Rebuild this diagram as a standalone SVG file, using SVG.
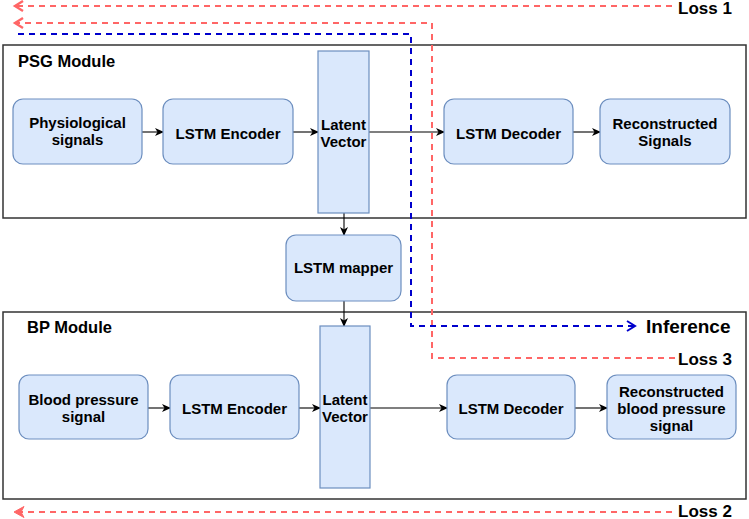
<svg xmlns="http://www.w3.org/2000/svg" width="749" height="519" viewBox="0 0 749 519">
<style>
.mod{fill:#fff;stroke:#333;stroke-width:1.5}
.node{fill:#dae8fc;stroke:#6c8ebf;stroke-width:1.2}
.t{font-family:"Liberation Sans",Arial,sans-serif;font-weight:bold;font-size:15px;fill:#000;text-anchor:middle}
.lbl{font-family:"Liberation Sans",Arial,sans-serif;font-weight:bold;fill:#000}
.arr{fill:none;stroke:#000;stroke-width:1.1;marker-end:url(#ah)}
.red{fill:none;stroke:#ff6666;stroke-width:2;stroke-dasharray:6 5}
.blue{fill:none;stroke:#0000cc;stroke-width:2;stroke-dasharray:6 5}
</style>
<defs>
<marker id="ah" markerWidth="10" markerHeight="10" refX="8" refY="5" orient="auto" markerUnits="userSpaceOnUse">
<path d="M0,1 L9,5 L0,9 L2.5,5 Z" fill="#000"/>
</marker>
<marker id="openR" markerWidth="14" markerHeight="14" refX="11" refY="7" orient="auto" markerUnits="userSpaceOnUse">
<path d="M3,2 L11,7 L3,12" fill="none" stroke="#ff6666" stroke-width="2.4"/>
</marker>
<marker id="fillR" markerWidth="14" markerHeight="14" refX="12" refY="7" orient="auto" markerUnits="userSpaceOnUse">
<path d="M2,1.5 L12,7 L2,12.5 L5,7 Z" fill="#ff6666" stroke="#ff6666" stroke-width="1"/>
</marker>
<marker id="openB" markerWidth="14" markerHeight="14" refX="12" refY="7" orient="auto" markerUnits="userSpaceOnUse">
<path d="M4,2 L12,7 L4,12" fill="none" stroke="#0000cc" stroke-width="2"/>
</marker>
</defs>

<g id="psg-module">
<rect class="mod" x="3" y="45" width="743" height="173"/>
<text class="lbl" x="18" y="67" font-size="16.5">PSG Module</text>
</g>
<g id="bp-module">
<rect class="mod" x="3" y="312" width="743" height="187"/>
<text class="lbl" x="27" y="333" font-size="16.5">BP Module</text>
</g>

<g id="connectors">
<path class="arr" d="M142,132 H163"/>
<path class="arr" d="M293,132 H318"/>
<path class="arr" d="M369,132 H444"/>
<path class="arr" d="M573,132 H600"/>
<path class="arr" d="M344,213 V235"/>
<path class="arr" d="M344,301 V326"/>
<path class="arr" d="M148,408 H170"/>
<path class="arr" d="M299,408 H320"/>
<path class="arr" d="M370,408 H447"/>
<path class="arr" d="M575,408 H607"/>
<path class="red" d="M672,6 H15" marker-end="url(#openR)"/>
<path class="red" d="M675,358 H432 V23 H15" marker-end="url(#openR)"/>
<path class="blue" d="M18,34 H411 V326 H635" marker-end="url(#openB)"/>
<path class="red" d="M672,512 H14" marker-end="url(#fillR)"/>
</g>

<g id="physiological-signals">
<rect class="node" x="13" y="99" width="129" height="65" rx="10"/>
<text class="t" x="77.5" y="128">Physiological</text>
<text class="t" x="77.5" y="145">signals</text>
</g>
<g id="psg-lstm-encoder">
<rect class="node" x="163" y="99" width="130" height="65" rx="10"/>
<text class="t" x="228" y="138.5">LSTM Encoder</text>
</g>
<g id="psg-latent-vector">
<rect class="node" x="318" y="51" width="51" height="162"/>
<text class="t" x="343.5" y="129.5">Latent</text>
<text class="t" x="343.5" y="146.5">Vector</text>
</g>
<g id="psg-lstm-decoder">
<rect class="node" x="444" y="99" width="129" height="65" rx="10"/>
<text class="t" x="508.5" y="138.5">LSTM Decoder</text>
</g>
<g id="reconstructed-signals">
<rect class="node" x="600" y="99" width="130" height="65" rx="10"/>
<text class="t" x="665" y="129">Reconstructed</text>
<text class="t" x="665" y="146">Signals</text>
</g>
<g id="lstm-mapper">
<rect class="node" x="286" y="235" width="115" height="66" rx="10"/>
<text class="t" x="343.5" y="273">LSTM mapper</text>
</g>
<g id="blood-pressure-signal">
<rect class="node" x="19" y="375" width="129" height="64" rx="10"/>
<text class="t" x="83.5" y="405">Blood pressure</text>
<text class="t" x="83.5" y="422">signal</text>
</g>
<g id="bp-lstm-encoder">
<rect class="node" x="170" y="375" width="129" height="64" rx="10"/>
<text class="t" x="234.5" y="413.5">LSTM Encoder</text>
</g>
<g id="bp-latent-vector">
<rect class="node" x="320" y="326" width="50" height="162"/>
<text class="t" x="345" y="405">Latent</text>
<text class="t" x="345" y="422">Vector</text>
</g>
<g id="bp-lstm-decoder">
<rect class="node" x="447" y="375" width="128" height="64" rx="10"/>
<text class="t" x="511" y="413.5">LSTM Decoder</text>
</g>
<g id="reconstructed-bp-signal">
<rect class="node" x="607" y="375" width="129" height="64" rx="10"/>
<text class="t" x="671.5" y="396.5">Reconstructed</text>
<text class="t" x="671.5" y="413.5">blood pressure</text>
<text class="t" x="671.5" y="430.5">signal</text>
</g>

<g id="labels">
<text class="lbl" x="678" y="14" font-size="17">Loss 1</text>
<text class="lbl" x="646" y="333" font-size="19">Inference</text>
<text class="lbl" x="678" y="365" font-size="17">Loss 3</text>
<text class="lbl" x="678" y="516.5" font-size="17">Loss 2</text>
</g>
</svg>
